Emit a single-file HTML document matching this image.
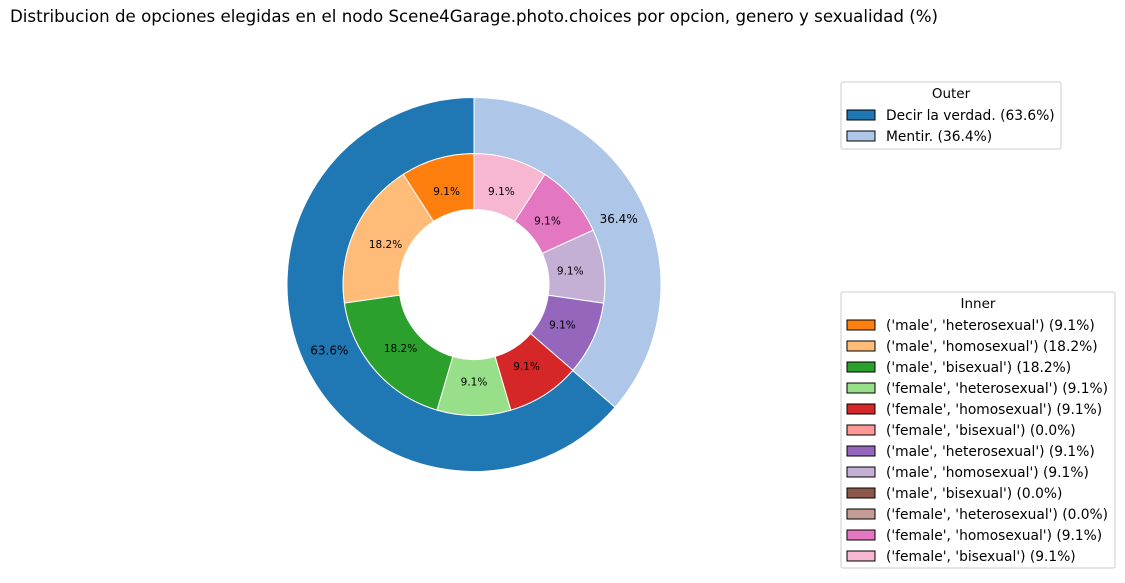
<!DOCTYPE html>
<html><head><meta charset="utf-8"><style>
body{margin:0;background:#fff;font-family:"Liberation Sans","DejaVu Sans",sans-serif;}
svg text{font-family:"DejaVu Sans","Liberation Sans",sans-serif;}
</style></head><body>
<svg id="chart" width="1125" height="578" viewBox="0 0 1125 578" xmlns="http://www.w3.org/2000/svg">
<text x="10" y="22" font-size="16.5" textLength="928" lengthAdjust="spacingAndGlyphs" fill="#000">Distribucion de opciones elegidas en el nodo Scene4Garage.photo.choices por opcion, genero y sexualidad (%)</text>
<g id="pies"></g>
<g id="legends"></g>
</svg>
<script>
const outerLabels = ["Decir la verdad.", "Mentir."];
const outerValues = [63.6, 36.4];
const innerLabels = ["('male', 'heterosexual')","('male', 'homosexual')","('male', 'bisexual')","('female', 'heterosexual')","('female', 'homosexual')","('female', 'bisexual')","('male', 'heterosexual')","('male', 'homosexual')","('male', 'bisexual')","('female', 'heterosexual')","('female', 'homosexual')","('female', 'bisexual')"];
const innerValues = [9.1, 18.2, 18.2, 9.1, 9.1, 0.0, 9.1, 9.1, 0.0, 0.0, 9.1, 9.1];
const outerColors = ["#1f77b4","#aec7e8"];
const innerColors = ["#ff7f0e","#ffbb78","#2ca02c","#98df8a","#d62728","#ff9896","#9467bd","#c5b0d5","#8c564b","#c49c94","#e377c2","#f7b6d2"];
const NS="http://www.w3.org/2000/svg";
const cx=474, cy=284.5, R=187;
const pies=document.getElementById('pies');
function pt(r,a){return [cx+r*Math.cos(a), cy-r*Math.sin(a)];}
function ring(values, colors, r0, r1, labelR, fs, name){
  const tot=values.reduce((a,b)=>a+b,0);
  let a=Math.PI/2;
  values.forEach((v,i)=>{
    const da=v/tot*2*Math.PI;
    if(v>0){
      const a2=a+da, lg=da>Math.PI?1:0;
      const p1=pt(r1,a),p2=pt(r1,a2),p3=pt(r0,a2),p4=pt(r0,a);
      const p=document.createElementNS(NS,'path');
      p.setAttribute('d',`M${p1[0]},${p1[1]} A${r1},${r1} 0 ${lg} 0 ${p2[0]},${p2[1]} L${p3[0]},${p3[1]} A${r0},${r0} 0 ${lg} 1 ${p4[0]},${p4[1]} Z`);
      p.setAttribute('fill',colors[i]);p.setAttribute('stroke','#fff');p.setAttribute('stroke-width','1');
      
      
      pies.appendChild(p);
      const m=pt(labelR,a+da/2);
      const t=document.createElementNS(NS,'text');
      t.setAttribute('x',m[0]);t.setAttribute('y',m[1]+fs*0.36);t.setAttribute('text-anchor','middle');t.setAttribute('font-size',fs);
      t.textContent=(v/tot*100).toFixed(1)+'%';
      
      
      pies.appendChild(t);
    }
    a+=da;
  });
}
ring(outerValues,outerColors,R*0.7,R,R*0.85,12,'outer');
ring(innerValues,innerColors,75,R*0.7,R*0.52,10.5,'inner');
const lg=document.getElementById('legends');
function legend(x,y,w,h,title,labels,values,colors,name){
  const b=document.createElementNS(NS,'rect');
  b.setAttribute('x',x);b.setAttribute('y',y);b.setAttribute('width',w);b.setAttribute('height',h);b.setAttribute('rx',2);
  b.setAttribute('fill','#fff');b.setAttribute('stroke','#ccc');
  
  
  lg.appendChild(b);
  const t=document.createElementNS(NS,'text');
  t.setAttribute('x',x+w/2);t.setAttribute('y',y+16);t.setAttribute('text-anchor','middle');t.setAttribute('font-size',13.5);t.textContent=title;
  
  
  lg.appendChild(t);
  labels.forEach((l,i)=>{
    const yy=y+33+i*21;
    const r=document.createElementNS(NS,'rect');
    r.setAttribute('x',x+6);r.setAttribute('y',yy-5);r.setAttribute('width',28);r.setAttribute('height',10);
    r.setAttribute('fill',colors[i]);r.setAttribute('stroke','#000');
    
    
    lg.appendChild(r);
    const tx=document.createElementNS(NS,'text');
    tx.setAttribute('x',x+45);tx.setAttribute('y',yy+5);tx.setAttribute('font-size',13.8);
    tx.textContent=l+' ('+values[i].toFixed(1)+'%)';
    
    
    lg.appendChild(tx);
  });
}
legend(841,82,220,67,'Outer',outerLabels,outerValues,outerColors,'outer-legend');
legend(841,292,274,276,'Inner',innerLabels,innerValues,innerColors,'inner-legend');
</script>
</body></html>
